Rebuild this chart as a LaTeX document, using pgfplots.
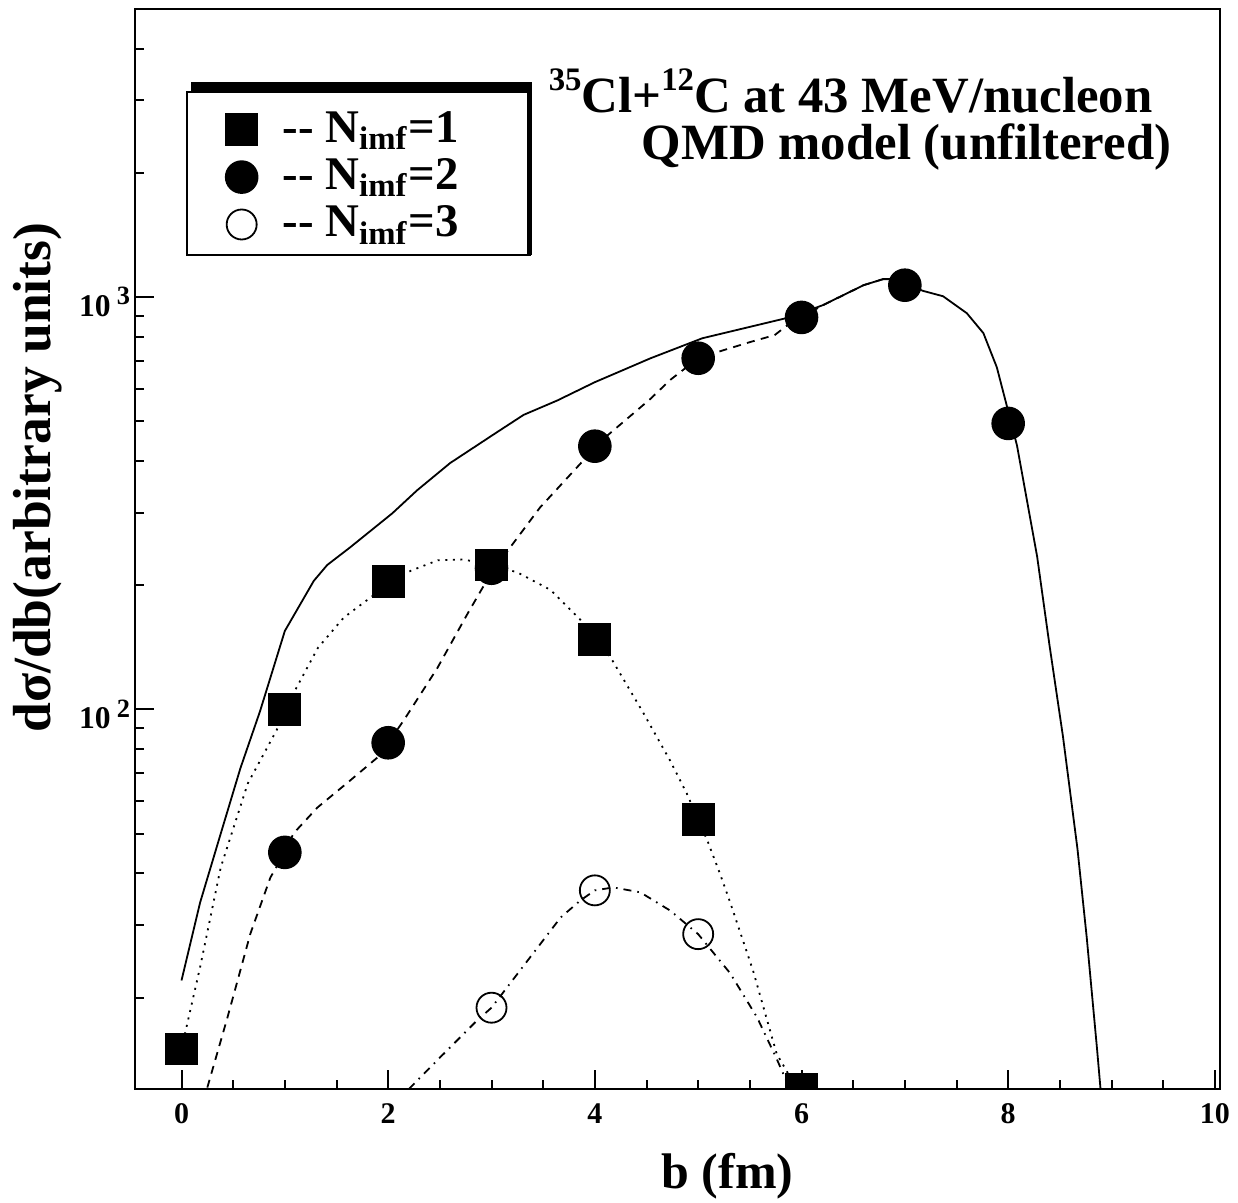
\documentclass[border=0pt]{standalone}
\usepackage{fontspec}
\setmainfont{Liberation Serif}
\usepackage{pgfplots}
\pgfplotsset{compat=1.18}
\pgfplotsset{markonly legend/.style={legend image code/.code={\path (0pt,0pt) (14pt,0pt); \draw[##1] plot coordinates {(4pt,0pt)};}}}
\newcommand{\sups}[1]{\raisebox{0.42em}{\fontsize{8.2}{8.2}\selectfont #1}}
\newcommand{\ytl}[1]{10\hspace{1.6pt}\raisebox{2.8pt}{\fontsize{6.6}{6.6}\selectfont #1}}
\begin{document}
\begin{tikzpicture}
\useasboundingbox (-33.75pt,-28.25pt) rectangle (275.75pt,272.25pt);
\begin{axis}[
  at={(0,0)}, anchor=south west,
  scale only axis, width=271.25pt, height=270pt,
  font=\bfseries,
  xmin=-0.45, xmax=10.05, ymode=log, ymin=12, ymax=5000,
  axis line style={line width=0.6pt},
  xtick={0,2,4,6,8,10}, minor x tick num=3,
  ytick={100,1000}, yticklabels={\ytl{2},\ytl{3}},
  minor ytick={20,30,40,50,60,70,80,90,200,300,400,500,600,700,800,900,2000,3000,4000},
  xtick pos=bottom, ytick pos=left, tick align=inside,
  major tick length=4.8pt, minor tick length=2.3pt,
  every tick/.style={line width=0.5pt, black},
  /pgf/number format/assume math mode=true,
  xticklabel style={font=\bfseries\fontsize{7.5}{9}\selectfont, inner sep=0pt, yshift=-3.5pt},
  yticklabel style={font=\bfseries\fontsize{7.9}{9}\selectfont, inner sep=0pt, anchor=east, xshift=-1.0pt, yshift=-1.2pt},
  xlabel={b (fm)},
  xlabel style={font=\bfseries\fontsize{12.5}{15}\selectfont, at={(axis description cs:0.546,-0.0917)}, anchor=base},
  ylabel={dσ/db(arbitrary units)},
  ylabel style={font=\bfseries\fontsize{13.4}{15}\selectfont, at={(axis description cs:-0.0783,0.566)}, anchor=base},
  clip marker paths=true,
  legend style={at={(axis description cs:0.082,0.906)}, anchor=north west, draw=none, fill=none,
    font=\bfseries\fontsize{11.7}{12.5}\selectfont, inner sep=0pt, row sep=2.6pt,
    nodes={inner sep=0pt}},
  legend cell align=left,
]
% curves
\addplot[black, line width=0.45pt, forget plot] coordinates {
(0,22) (0.18,34) (0.38,50) (0.57,72) (0.76,99) (1.0,155) (1.28,205) (1.41,224) (1.63,247)
(2.04,299) (2.28,340) (2.60,396) (3.04,468) (3.31,518) (3.64,562) (4.0,622) (4.54,711)
(5.04,795) (5.89,894) (6.21,957) (6.60,1069) (6.79,1106) (6.86,1106) (7.18,1035) (7.37,1005)
(7.60,914) (7.76,818) (7.89,676) (7.99,541) (8.085,437) (8.28,235) (8.40,143) (8.53,86)
(8.67,46) (8.76,28) (8.86,15) (8.90,11.5)};
\addplot[black, line width=0.45pt, dash pattern=on 0.5pt off 1.4pt, forget plot] coordinates {
(0,15) (0.18,23.7) (0.38,41.4) (0.64,66) (0.93,90) (1.0,100) (1.08,109) (1.32,141) (1.57,167)
(1.88,191) (2.0,203) (2.22,217) (2.48,230) (2.73,231) (3.0,224) (3.25,215) (3.57,195)
(3.86,165) (4.0,148) (4.15,134) (4.47,98) (4.73,75) (4.89,62.5) (5.0,54) (5.09,48) (5.21,40)
(5.31,34) (5.53,23.3) (5.76,14.6) (6.0,11.5)};
\addplot[black, line width=0.45pt, dash pattern=on 2pt off 1.6pt, forget plot] coordinates {
(0.25,12.1) (0.445,17.9) (0.667,28.6) (0.86,39.1) (1.0,45) (1.083,50) (1.315,57.8) (1.634,67.3)
(1.9,76.6) (2.0,83) (2.15,94) (2.476,126) (2.77,171) (3.0,215) (3.18,247) (3.47,309) (3.89,402)
(4.0,435) (4.536,566) (4.73,630) (5.0,711) (5.24,743) (5.50,778) (5.74,809) (5.89,865)
(6.0,893) (6.21,957) (6.60,1069) (6.79,1106) (6.86,1100) (7.0,1069)};
\addplot[black, line width=0.45pt, dash pattern=on 2pt off 1.5pt on 0.4pt off 1.5pt, forget plot] coordinates {
(2.2,12) (2.5,14.3) (2.86,17.6) (3.0,18.9) (3.35,24.6) (3.67,31.3) (3.86,34.4) (4.0,36.4)
(4.18,37.0) (4.44,36.0) (4.73,32.5) (5.0,28.5) (5.31,22.9) (5.57,17.9) (5.76,14.2) (5.9,11.8)};
% markers
\addplot[only marks, mark=square*, mark size=3.9pt, black, fill=black, markonly legend]
  coordinates {(0,15) (1,100) (2,204) (3,224) (4,148) (5,54) (6,12)};
\addplot[only marks, mark=*, mark size=4pt, black, fill=black, markonly legend]
  coordinates {(1,45) (2,83) (3,220) (4,435) (5,711) (6,893) (7,1069) (8,494)};
\addplot[only marks, mark=o, mark size=3.75pt, black, line width=0.45pt, mark options={fill=white}, markonly legend]
  coordinates {(3,18.9) (4,36.4) (5,28.5)};
\legend{{-}{-} N\textsubscript{imf}=1, {-}{-} N\textsubscript{imf}=2, {-}{-} N\textsubscript{imf}=3}
% square at 3 drawn again over the hidden circle
\addplot[only marks, mark=square*, mark size=3.9pt, black, fill=black, forget plot]
  coordinates {(3,224)};
% legend frame
\draw[line width=0.5pt] (axis description cs:0.0479,0.7722) rectangle (axis description cs:0.3641,0.9231);
\fill (axis description cs:0.0516,0.9231) rectangle (axis description cs:0.3641,0.9324);
\draw[line width=1.1pt] (axis description cs:0.3636,0.9324) -- (axis description cs:0.3636,0.7722);
% title
\node[inner sep=0pt, anchor=base west, font=\bfseries\fontsize{12.7}{15}\selectfont] at (axis description cs:0.3806,0.9046) {\sups{35}Cl+\sups{12}C at 43 MeV/nucleon};
\node[inner sep=0pt, anchor=base east, font=\bfseries\fontsize{12.7}{15}\selectfont] at (axis description cs:0.9558,0.8602) {QMD model (unfiltered)};
\end{axis}
\end{tikzpicture}
\end{document}
